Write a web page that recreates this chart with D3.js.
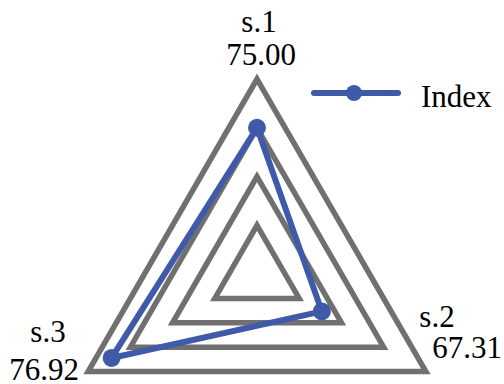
<!DOCTYPE html>
<html>
<head>
<meta charset="utf-8">
<script src="https://cdn.jsdelivr.net/npm/d3@7"></script>
<style>
  html, body { margin: 0; padding: 0; background: #fff; }
  svg { display: block; }
  text { font-family: "Liberation Serif", "Times New Roman", serif; fill: #000; }
</style>
</head>
<body>
<div id="chart"></div>
<script>
// data
let axes = ["s.1", "s.2", "s.3"]
let axisValueLabels = ["75.00", "67.31", "76.92"]
let values = [75, 38.4, 86.1]      // plotted position, percent of the outer ring
let levels = [25, 50, 75, 100]
let seriesName = "Index"

let width = 504,
    height = 384

let cx = 257, cy = 274, radius = 195

let gridColor = "#707070",
    lineColor = "#3f5aa8"

// label offsets (dx, dy) from the chart centre for the two text lines
let labelLayout = [
    { name: [2, -242], value: [4, -209] },
    { name: [180, 53], value: [210, 84] },
    { name: [-209, 68], value: [-213, 106] }
]

let svg = d3.select("#chart")
    .append("svg")
    .attr("width", width)
    .attr("height", height)

let rScale = d3.scaleLinear()
    .domain([0, 100])
    .range([0, radius])

let angle = d3.scaleLinear()
    .domain([0, axes.length])
    .range([0, 2 * Math.PI])

let g = svg.append("g")
    .attr("transform", "translate(" + cx + "," + cy + ")")

// grid triangles
let gridLine = d3.lineRadial()
    .angle(function (d, i) { return angle(i) })
    .radius(function (d) { return rScale(d) })
    .curve(d3.curveLinearClosed)

g.selectAll(".grid")
    .data(levels)
    .enter()
    .append("path")
    .attr("class", "grid")
    .attr("d", function (lv) { return gridLine(axes.map(function () { return lv })) })
    .attr("fill", "none")
    .attr("stroke", gridColor)
    .attr("stroke-width", 5.5)
    .attr("stroke-linejoin", "miter")

// series
g.append("path")
    .datum(values)
    .attr("d", gridLine)
    .attr("fill", "none")
    .attr("stroke", lineColor)
    .attr("stroke-width", 6)
    .attr("stroke-linejoin", "round")

function pointXY(v, i) {
    let a = angle(i)
    return [rScale(v) * Math.sin(a), -rScale(v) * Math.cos(a)]
}

g.selectAll(".dot")
    .data(values)
    .enter()
    .append("circle")
    .attr("class", "dot")
    .attr("cx", function (d, i) { return pointXY(d, i)[0] })
    .attr("cy", function (d, i) { return pointXY(d, i)[1] })
    .attr("r", 9)
    .attr("fill", lineColor)

// axis labels
let labels = g.selectAll(".axis-label")
    .data(axes)
    .enter()
    .append("g")
    .attr("class", "axis-label")

labels.append("text")
    .attr("x", function (d, i) { return labelLayout[i].name[0] })
    .attr("y", function (d, i) { return labelLayout[i].name[1] })
    .attr("text-anchor", "middle")
    .attr("font-size", 31)
    .text(function (d) { return d })

labels.append("text")
    .attr("x", function (d, i) { return labelLayout[i].value[0] })
    .attr("y", function (d, i) { return labelLayout[i].value[1] })
    .attr("text-anchor", "middle")
    .attr("font-size", 31)
    .text(function (d, i) { return axisValueLabels[i] })

// legend
let legend = svg.append("g")
    .attr("transform", "translate(314,93)")

legend.append("line")
    .attr("x1", 0)
    .attr("x2", 84)
    .attr("stroke", lineColor)
    .attr("stroke-width", 6)
    .attr("stroke-linecap", "round")

legend.append("circle")
    .attr("cx", 40)
    .attr("r", 8)
    .attr("fill", lineColor)

legend.append("text")
    .attr("x", 107)
    .attr("y", 14)
    .attr("font-size", 31)
    .text(seriesName)
</script>
</body>
</html>
